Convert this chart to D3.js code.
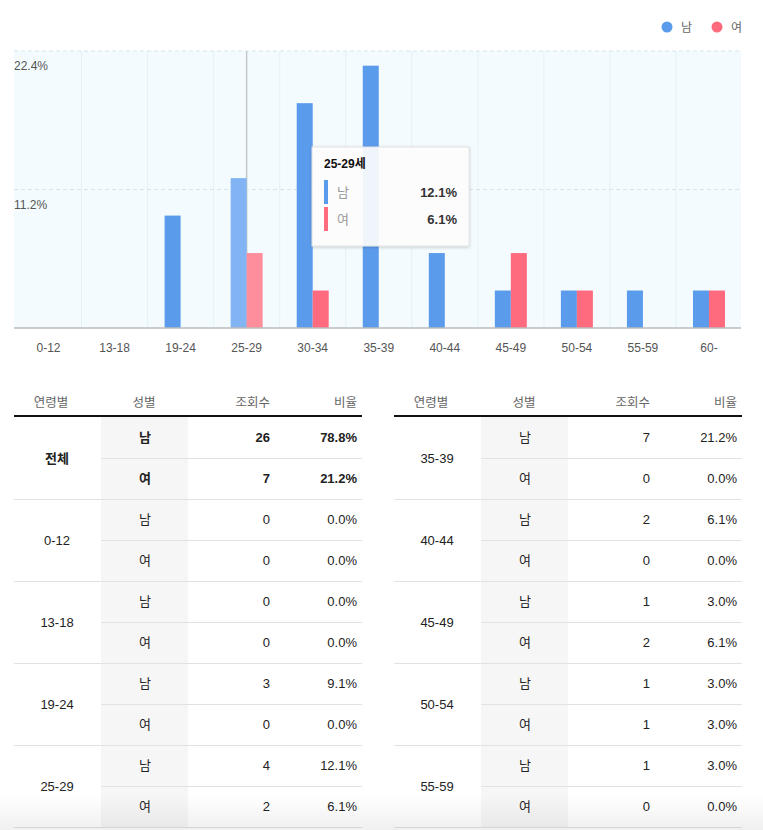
<!DOCTYPE html>
<html>
<head>
<meta charset="utf-8">
<script src="https://cdn.jsdelivr.net/npm/d3@7"></script>
<style>
  body { margin: 0; background: #fff; }
  svg { display: block; font-family: 'Liberation Sans', 'Noto Sans CJK KR', sans-serif; }
</style>
</head>
<body>
<div id="chart-container"></div>
<script>
// age groups and view counts per gender
const ageGroups = ['0-12', '13-18', '19-24', '25-29', '30-34', '35-39', '40-44', '45-49', '50-54', '55-59', '60-']
const maleCounts = [0, 0, 3, 4, 6, 7, 2, 1, 1, 1, 1]
const femaleCounts = [0, 0, 0, 2, 1, 0, 0, 2, 1, 0, 1]
const genders = ['남', '여']
const yTicks = [11.2, 22.4]
const hoverAge = '25-29'
const headers = ['연령별', '성별', '조회수', '비율']

const colors = { '남': '#5b9bec', '여': '#ff6b7e' }
const lightColors = { '남': '#82b4f3', '여': '#ff8e9c' }

const total = d3.sum(maleCounts) + d3.sum(femaleCounts)
const pct = c => (c / total) * 100
const fmt = v => v.toFixed(1) + '%'

const width = 763
const height = 830

const svg = d3
  .select('#chart-container')
  .append('svg')
  .attr('width', width)
  .attr('height', height)

const defs = svg.append('defs')
const shadow = defs.append('filter').attr('id', 'shadow').attr('x', '-20%').attr('y', '-20%').attr('width', '140%').attr('height', '150%')
shadow.append('feDropShadow').attr('dx', 0).attr('dy', 1).attr('stdDeviation', 1.5).attr('flood-color', '#000').attr('flood-opacity', 0.2)

// ---------- chart ----------
const plotLeft = 14
const plotRight = 741
const plotTop = 51
const plotBottom = 328

const x = d3.scaleBand().domain(ageGroups).range([plotLeft + 1.5, plotRight + 1])
const bw = x.bandwidth()
const xInner = d3.scaleBand().domain(genders).range([bw / 2 - 16, bw / 2 + 16])
const y = d3.scaleLinear().domain([0, 22.4]).range([plotBottom, plotTop])

const chart = svg.append('g')

chart
  .append('rect')
  .attr('x', plotLeft)
  .attr('y', plotTop)
  .attr('width', plotRight - plotLeft)
  .attr('height', plotBottom - plotTop)
  .attr('fill', '#f3fbfe')

// vertical band separators
chart
  .selectAll('line.vgrid')
  .data(ageGroups.slice(1))
  .join('line')
  .attr('class', 'vgrid')
  .attr('x1', d => x(d))
  .attr('x2', d => x(d))
  .attr('y1', plotTop)
  .attr('y2', plotBottom)
  .attr('stroke', '#e4f2f8')
  .attr('stroke-width', 1)

// horizontal dashed gridlines
chart
  .selectAll('line.hgrid')
  .data(yTicks)
  .join('line')
  .attr('class', 'hgrid')
  .attr('x1', plotLeft)
  .attr('x2', plotRight)
  .attr('y1', d => y(d))
  .attr('y2', d => y(d))
  .attr('stroke', '#d8e4e9')
  .attr('stroke-width', 1.2)
  .attr('stroke-dasharray', '4,3')

chart
  .selectAll('text.ylab')
  .data(yTicks)
  .join('text')
  .attr('class', 'ylab')
  .attr('x', plotLeft)
  .attr('y', d => y(d) + 19)
  .attr('font-size', 12)
  .attr('fill', '#555')
  .text(d => d.toFixed(1) + '%')

// hover line
chart
  .append('line')
  .attr('x1', x(hoverAge) + bw / 2)
  .attr('x2', x(hoverAge) + bw / 2)
  .attr('y1', plotTop)
  .attr('y2', plotBottom)
  .attr('stroke', '#c4c8ca')
  .attr('stroke-width', 1.5)

const barData = []
ageGroups.forEach((a, i) => {
  barData.push({ age: a, gender: '남', value: pct(maleCounts[i]) })
  barData.push({ age: a, gender: '여', value: pct(femaleCounts[i]) })
})

chart
  .selectAll('rect.bar')
  .data(barData.filter(d => d.value > 0))
  .join('rect')
  .attr('class', 'bar')
  .attr('x', d => x(d.age) + xInner(d.gender))
  .attr('width', xInner.bandwidth())
  .attr('y', d => y(d.value))
  .attr('height', d => plotBottom - y(d.value))
  .attr('fill', d => (d.age === hoverAge ? lightColors[d.gender] : colors[d.gender]))

// baseline
chart
  .append('line')
  .attr('x1', plotLeft)
  .attr('x2', plotRight)
  .attr('y1', plotBottom)
  .attr('y2', plotBottom)
  .attr('stroke', '#bbb')
  .attr('stroke-width', 1.5)

chart
  .selectAll('text.xlab')
  .data(ageGroups)
  .join('text')
  .attr('class', 'xlab')
  .attr('x', d => x(d) + bw / 2)
  .attr('y', 352)
  .attr('text-anchor', 'middle')
  .attr('font-size', 12)
  .attr('fill', '#555')
  .text(d => d)

// legend
const legend = svg
  .append('g')
  .selectAll('g')
  .data(genders)
  .join('g')
  .attr('transform', (d, i) => `translate(${667 + i * 50}, 27)`)
legend.append('circle').attr('r', 5.5).attr('fill', d => colors[d])
legend
  .append('text')
  .attr('x', 14)
  .attr('y', 4.5)
  .attr('font-size', 12)
  .attr('fill', '#666')
  .text(d => d)

// tooltip
const hi = ageGroups.indexOf(hoverAge)
const tipValues = [pct(maleCounts[hi]), pct(femaleCounts[hi])]
const tip = svg.append('g').attr('transform', 'translate(312, 147)')
tip
  .append('rect')
  .attr('width', 157)
  .attr('height', 99)
  .attr('fill', 'rgba(255,255,255,0.9)')
  .attr('stroke', '#e2e2e2')
  .attr('filter', 'url(#shadow)')
tip
  .append('text')
  .attr('x', 12)
  .attr('y', 21)
  .attr('font-size', 12)
  .attr('font-weight', 'bold')
  .attr('fill', '#111')
  .text(hoverAge + '세')
const tipRows = tip
  .selectAll('g')
  .data(genders)
  .join('g')
  .attr('transform', (d, i) => `translate(0, ${33 + i * 27})`)
tipRows.append('rect').attr('x', 12).attr('width', 4).attr('height', 24).attr('fill', d => colors[d])
tipRows
  .append('text')
  .attr('x', 25)
  .attr('y', 17)
  .attr('font-size', 13)
  .attr('fill', '#999')
  .text(d => d)
tipRows
  .append('text')
  .attr('x', 145)
  .attr('y', 17)
  .attr('text-anchor', 'end')
  .attr('font-size', 13)
  .attr('font-weight', 'bold')
  .attr('fill', '#333')
  .text((d, i) => fmt(tipValues[i]))

// ---------- tables ----------
const groups = [
  { age: '전체', counts: [d3.sum(maleCounts), d3.sum(femaleCounts)], bold: true },
  ...ageGroups.map((a, i) => ({ age: a, counts: [maleCounts[i], femaleCounts[i]], bold: false })),
]
const leftGroups = groups.slice(0, 5)
const rightGroups = groups.slice(6, 11)

const rowH = 41
const headerY = 407
const bodyTop = 417

function drawTable(g, data) {
  const left = 0
  const right = 348
  const shadeL = 87
  const shadeR = 174

  g.append('rect')
    .attr('x', shadeL)
    .attr('y', bodyTop)
    .attr('width', shadeR - shadeL)
    .attr('height', data.length * rowH * 2)
    .attr('fill', '#f6f6f6')

  const hx = [37, 130, 256, 343]
  const anchors = ['middle', 'middle', 'end', 'end']
  g.selectAll('text.head')
    .data(headers)
    .join('text')
    .attr('class', 'head')
    .attr('x', (d, i) => hx[i])
    .attr('y', headerY)
    .attr('text-anchor', (d, i) => anchors[i])
    .attr('font-size', 12.5)
    .attr('fill', '#666')
    .text(d => d)

  g.append('line')
    .attr('x1', left)
    .attr('x2', right)
    .attr('y1', bodyTop - 1)
    .attr('y2', bodyTop - 1)
    .attr('stroke', '#111')
    .attr('stroke-width', 2)

  const grp = g
    .selectAll('g.grp')
    .data(data)
    .join('g')
    .attr('class', 'grp')
    .attr('transform', (d, i) => `translate(0, ${bodyTop + i * rowH * 2})`)

  grp
    .append('text')
    .attr('x', 43)
    .attr('y', rowH + 5)
    .attr('text-anchor', 'middle')
    .attr('font-size', 13)
    .attr('font-weight', d => (d.bold ? 'bold' : 'normal'))
    .attr('fill', '#222')
    .text(d => d.age)

  grp
    .append('line')
    .attr('x1', shadeL)
    .attr('x2', right)
    .attr('y1', rowH + 0.5)
    .attr('y2', rowH + 0.5)
    .attr('stroke', '#e2e2e2')
  grp
    .append('line')
    .attr('x1', left)
    .attr('x2', right)
    .attr('y1', rowH * 2 + 0.5)
    .attr('y2', rowH * 2 + 0.5)
    .attr('stroke', '#e2e2e2')

  const rows = grp
    .selectAll('g.row')
    .data(d => genders.map((s, j) => ({ gender: s, count: d.counts[j], bold: d.bold })))
    .join('g')
    .attr('class', 'row')
    .attr('transform', (d, j) => `translate(0, ${j * rowH + 25})`)

  rows
    .append('text')
    .attr('x', 131)
    .attr('text-anchor', 'middle')
    .attr('font-size', 13)
    .attr('font-weight', d => (d.bold ? 'bold' : 'normal'))
    .attr('fill', '#222')
    .text(d => d.gender)
  rows
    .append('text')
    .attr('x', 256)
    .attr('text-anchor', 'end')
    .attr('font-size', 13)
    .attr('font-weight', d => (d.bold ? 'bold' : 'normal'))
    .attr('fill', '#222')
    .text(d => d.count)
  rows
    .append('text')
    .attr('x', 343)
    .attr('text-anchor', 'end')
    .attr('font-size', 13)
    .attr('font-weight', d => (d.bold ? 'bold' : 'normal'))
    .attr('fill', '#222')
    .text(d => fmt(pct(d.count)))
}

drawTable(svg.append('g').attr('transform', 'translate(14, 0)'), leftGroups)
drawTable(svg.append('g').attr('transform', 'translate(394, 0)'), rightGroups)

// bottom fade
const grad = defs.append('linearGradient').attr('id', 'fade').attr('x1', 0).attr('x2', 0).attr('y1', 0).attr('y2', 1)
grad.append('stop').attr('offset', '0%').attr('stop-color', '#000').attr('stop-opacity', 0)
grad.append('stop').attr('offset', '100%').attr('stop-color', '#000').attr('stop-opacity', 0.06)
svg.append('rect').attr('x', 0).attr('y', 795).attr('width', width).attr('height', 35).attr('fill', 'url(#fade)').attr('pointer-events', 'none')
</script>
</body>
</html>
